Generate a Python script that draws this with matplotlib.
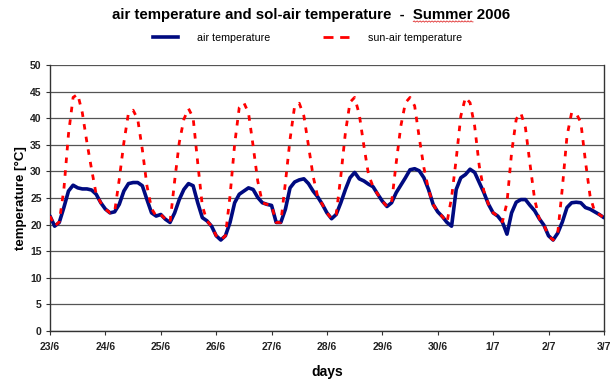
import matplotlib
matplotlib.use("Agg")
import matplotlib.pyplot as plt
import numpy as np
from matplotlib.lines import Line2D

plt.rcParams['font.family'] = ['Liberation Sans', 'DejaVu Sans']

day_labels = ["23/6", "24/6", "25/6", "26/6", "27/6", "28/6", "29/6", "30/6", "1/7", "2/7", "3/7"]
hours = [0, 2, 4, 6, 8, 10, 12, 14, 16, 18, 20, 22]

air_temp = [
    21.6, 19.7, 20.4, 23.2, 26.3, 27.4, 26.9, 26.7, 26.7, 26.5, 25.7, 24.1,   # 23/6
    22.9, 22.2, 22.4, 23.8, 26.3, 27.7, 27.9, 27.9, 27.3, 24.7, 22.2, 21.6,   # 24/6
    21.9, 21.0, 20.4, 22.2, 24.7, 26.6, 27.7, 27.3, 24.1, 21.3, 20.7, 19.7,   # 25/6
    17.9, 17.1, 17.9, 20.4, 24.1, 25.7, 26.3, 26.9, 26.6, 25.1, 24.1, 23.8,   # 26/6
    23.6, 20.4, 20.4, 22.9, 26.9, 28.0, 28.4, 28.6, 27.7, 26.3, 25.2, 23.8,   # 27/6
    22.2, 21.1, 21.9, 24.1, 26.6, 28.8, 29.8, 28.6, 28.2, 27.6, 27.1, 25.7,   # 28/6
    24.4, 23.4, 24.1, 26.0, 27.4, 28.8, 30.3, 30.5, 30.1, 28.8, 26.6, 23.8,   # 29/6
    22.4, 21.5, 20.4, 19.7, 26.6, 28.8, 29.4, 30.4, 29.8, 27.9, 26.0, 23.8,   # 30/6
    22.2, 21.6, 20.5, 18.2, 22.2, 24.2, 24.7, 24.7, 23.6, 22.6, 21.1, 19.9,   # 1/7
    17.9, 17.1, 18.4, 20.5, 23.2, 24.1, 24.2, 24.1, 23.2, 22.9, 22.4, 21.9,   # 2/7
    21.3,                                                                     # 3/7
]

sun_air_temp = [
    21.6, 19.7, 20.5, 26.6, 37.0, 43.9, 44.5, 41.0, 35.4, 30.4, 25.7, 24.1,   # 23/6
    22.9, 22.2, 22.4, 28.5, 35.4, 41.0, 41.5, 39.8, 34.1, 27.3, 23.0, 21.6,   # 24/6
    21.9, 21.0, 20.4, 28.2, 35.4, 39.8, 41.8, 40.1, 31.6, 23.5, 20.7, 19.7,   # 25/6
    17.9, 17.1, 17.9, 25.4, 35.1, 42.0, 42.9, 41.0, 34.8, 28.2, 24.1, 23.8,   # 26/6
    23.6, 20.4, 20.4, 27.9, 36.0, 42.3, 42.8, 40.4, 34.8, 29.1, 25.2, 23.8,   # 27/6
    22.2, 21.1, 21.9, 29.1, 37.3, 43.0, 43.9, 40.7, 34.8, 29.4, 27.1, 25.7,   # 28/6
    24.4, 23.4, 24.1, 31.6, 38.5, 42.9, 43.9, 42.3, 36.3, 30.7, 26.6, 23.8,   # 29/6
    22.4, 21.5, 20.4, 25.1, 32.3, 40.4, 43.9, 42.9, 38.5, 31.0, 26.3, 23.8,   # 30/6
    22.2, 21.6, 20.5, 24.1, 33.5, 39.8, 41.0, 38.2, 31.3, 24.7, 21.1, 19.9,   # 1/7
    17.9, 17.1, 18.4, 26.9, 36.6, 41.0, 40.9, 39.2, 31.9, 25.4, 22.4, 21.9,   # 2/7
    21.3,                                                                     # 3/7
]

n_days = len(day_labels) - 1
t = np.array([d + h / 24.0 for d in range(n_days) for h in hours] + [n_days])

W, H = 610, 382
fig = plt.figure(figsize=(W / 100, H / 100), dpi=100)
ax = fig.add_axes([0.082, 0.1335, 0.908, 0.6965])

ax.plot(t, air_temp, color='#000a80', lw=2.6, solid_joinstyle='round',
        solid_capstyle='round', zorder=3)
ax.plot(t, sun_air_temp, color='#ff0000', lw=2.0, dashes=(2.0, 2.6), zorder=4)

ax.set_xlim(0, n_days)
ax.set_ylim(0, 50)
ax.set_yticks(np.arange(0, 51, 5))
ax.set_xticks(np.arange(0, n_days + 1))
ax.set_xticklabels(day_labels)
ax.grid(axis='y', color='#555555', lw=0.9)
ax.set_axisbelow(True)
ax.spines['top'].set_visible(False)
for s in ['left', 'bottom', 'right']:
    ax.spines[s].set_color('#333333')
    ax.spines[s].set_linewidth(1.0)
ax.tick_params(axis='both', labelsize=7.5, length=3, color='#333333', pad=3)
ax.tick_params(axis='x', pad=5)
for lbl in ax.get_xticklabels() + ax.get_yticklabels():
    lbl.set_fontweight('bold')
    lbl.set_color('#222222')

ax.set_ylabel('temperature [°C]', fontsize=9.5, fontweight='bold', labelpad=2)
ax.set_xlabel('days', fontsize=10, fontweight='bold', labelpad=9)

title_prefix = 'air temperature and sol-air temperature  -  '
title_word = 'Summer'
title_suffix = ' 2006'
title_props = dict(fontsize=10.85, fontweight='bold')
tx, ty = 0.5106, 1 - 15.5 / H
title = fig.text(tx, ty, title_prefix + title_word + title_suffix,
                 ha='center', va='center', **title_props)

# red spell-check squiggle under "Summer"
renderer = fig.canvas.get_renderer()
full_w = title.get_window_extent(renderer).width
tmp = fig.text(0, 0, title_prefix.replace(' ', '\u00a0'), **title_props)
pre_w = tmp.get_window_extent(renderer).width
tmp.remove()
tmp = fig.text(0, 0, title_word, **title_props)
word_w = tmp.get_window_extent(renderer).width
tmp.remove()
x0 = tx * W - full_w / 2 + pre_w
xs = np.linspace(x0, x0 + word_w, 60)
ys = (H - 21.5) + 0.7 * np.sin((xs - x0) * 2 * np.pi / 3.0)
fig.add_artist(Line2D(xs / W, ys / H, transform=fig.transFigure,
                      color='#e03030', lw=0.6))

handles = [Line2D([], [], color='#000a80', lw=2.6),
           Line2D([], [], color='#ff0000', lw=2.0, dashes=(3.6, 2.4))]
fig.legend(handles, ['air temperature', 'sun-air temperature'],
           loc='center', bbox_to_anchor=(0.504, 1 - 38 / H), ncol=2, frameon=False,
           fontsize=7.7, handlelength=2.4, columnspacing=4.95, handletextpad=1.78)

fig.savefig('out.png', dpi=100)
